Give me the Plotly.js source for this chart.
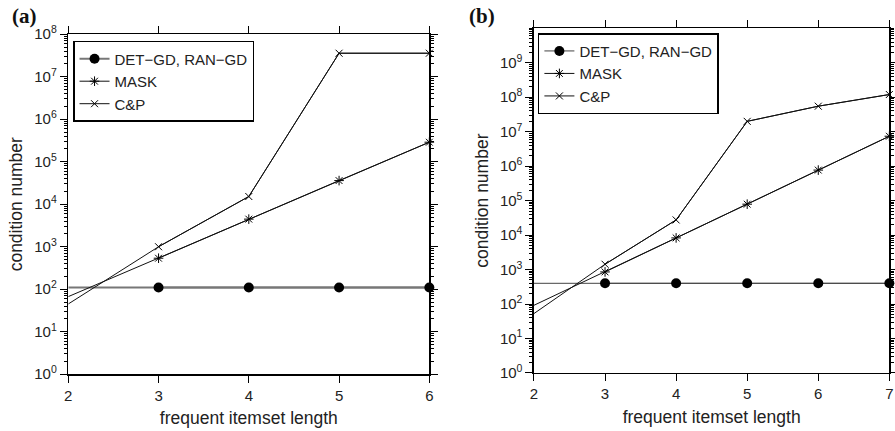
<!DOCTYPE html>
<html>
<head>
<meta charset="utf-8">
<script src="https://cdn.plot.ly/plotly-3.0.1.min.js"></script>
<style>html,body{margin:0;padding:0;background:#fff}#chart{width:895px;height:431px}</style>
</head>
<body>
<div id="chart"></div>
<script>
// Panel (a)
const xA = [2, 3, 4, 5, 6];
const xAmark = [3, 4, 5, 6];
const detA = [110, 110, 110, 110, 110];
const detAmark = [110, 110, 110, 110];
const maskA = [67, 537, 4460, 36000, 288000];
const maskAmark = [537, 4460, 36000, 288000];
const cpA = [45, 1000, 15200, 35700000, 35700000];
const cpAmark = [1000, 15200, 35700000, 35700000];
// Panel (b)
const xB = [2, 3, 4, 5, 6, 7];
const xBmark = [3, 4, 5, 6, 7];
const detB = [400, 400, 400, 400, 400, 400];
const detBmark = [400, 400, 400, 400, 400];
const maskB = [92, 855, 8300, 79000, 770000, 7400000];
const maskBmark = [855, 8300, 79000, 770000, 7400000];
const cpB = [53, 1430, 27600, 20000000, 55000000, 120000000];
const cpBmark = [1430, 27600, 20000000, 55000000, 120000000];
// ticks
const xTicksA = [2, 3, 4, 5, 6];
const xTicksB = [2, 3, 4, 5, 6, 7];
const yTickValsA = [1, 10, 100, 1e3, 1e4, 1e5, 1e6, 1e7, 1e8];
const yTickTextA = ['10<sup>0</sup>','10<sup>1</sup>','10<sup>2</sup>','10<sup>3</sup>','10<sup>4</sup>','10<sup>5</sup>','10<sup>6</sup>','10<sup>7</sup>','10<sup>8</sup>'];
const yTickValsB = [1, 10, 100, 1e3, 1e4, 1e5, 1e6, 1e7, 1e8, 1e9];
const yTickTextB = ['10<sup>0</sup>','10<sup>1</sup>','10<sup>2</sup>','10<sup>3</sup>','10<sup>4</sup>','10<sup>5</sup>','10<sup>6</sup>','10<sup>7</sup>','10<sup>8</sup>','10<sup>9</sup>'];
const names = ['DET\u2212GD, RAN\u2212GD', 'MASK', 'C&P'];

const F = '"Liberation Sans", Arial, sans-serif';
const lineBlack = {color: '#111', width: 1};

function pair(xs, ys, xm, ym, xa, ya, lg, name, line, marker) {
  return [
    {x: xs, y: ys, xaxis: xa, yaxis: ya, mode: 'lines', line: line, showlegend: false, hoverinfo: 'skip', cliponaxis: false},
    {x: xm, y: ym, xaxis: xa, yaxis: ya, mode: 'lines+markers', name: name, legend: lg, line: line, marker: marker, cliponaxis: false}
  ];
}

function panel(xs, xm, det, detm, mask, maskm, cp, cpm, xa, ya, lg, detColor, detWidth) {
  return [].concat(
    pair(xs, det, xm, detm, xa, ya, lg, names[0], {color: detColor, width: detWidth}, {symbol: 'circle', size: 10, color: '#000'}),
    pair(xs, mask, xm, maskm, xa, ya, lg, names[1], lineBlack, {symbol: 'asterisk-open', size: 8, color: '#000', line: {color: '#000', width: 1}}),
    pair(xs, cp, xm, cpm, xa, ya, lg, names[2], lineBlack, {symbol: 'x-thin-open', size: 7, color: '#000', line: {color: '#000', width: 1}})
  );
}

const data = [].concat(
  panel(xA, xAmark, detA, detAmark, maskA, maskAmark, cpA, cpAmark, 'x', 'y', 'legend', '#777', 2),
  panel(xB, xBmark, detB, detBmark, maskB, maskBmark, cpB, cpBmark, 'x2', 'y2', 'legend2', '#444', 1)
);

const tickFont = {family: F, size: 15, color: '#222'};
const titleFont = {family: F, size: 17.5, color: '#222'};
function xaxis(domain, range, ticks, anchor) {
  return {domain: domain, range: range, tickvals: ticks, ticktext: ticks.map(String), anchor: anchor,
    showline: true, linecolor: '#000', linewidth: 1.5, mirror: 'ticks', ticks: 'outside', ticklen: 7,
    tickcolor: '#000', tickwidth: 1, showgrid: false, zeroline: false, tickfont: tickFont,
    title: {text: 'frequent itemset length', font: titleFont, standoff: 9}, automargin: false};
}
function yaxis(domain, range, vals, text, anchor) {
  return {domain: domain, type: 'log', range: range, tickvals: vals, ticktext: text, anchor: anchor,
    showline: true, linecolor: '#000', linewidth: 1.5, mirror: 'ticks', ticks: 'outside', ticklen: 7,
    tickcolor: '#000', tickwidth: 1, showgrid: false, zeroline: false, tickfont: tickFont,
    minor: {dtick: 'D1', ticks: 'outside', ticklen: 3, tickcolor: '#000', tickwidth: 1, showgrid: false},
    title: {text: 'condition number', font: titleFont, standoff: 7}, automargin: false};
}

const legendStyle = {xanchor: 'left', yanchor: 'top', bgcolor: '#fff', bordercolor: '#000', borderwidth: 1.5,
    font: {family: F, size: 15, color: '#222'}, itemwidth: 30, tracegroupgap: 0};

const layout = {
  width: 895, height: 431,
  margin: {l: 0, r: 0, t: 0, b: 0},
  paper_bgcolor: '#fff', plot_bgcolor: '#fff',
  font: {family: F, color: '#222'},
  xaxis: xaxis([0.0763, 0.4797], [2, 6], xTicksA, 'y'),
  yaxis: yaxis([0.1317, 0.9206], [0, 8], yTickValsA, yTickTextA, 'x'),
  xaxis2: xaxis([0.5966, 0.9937], [2, 7], xTicksB, 'y2'),
  yaxis2: yaxis([0.1346, 0.9343], [0, 10], yTickValsB, yTickTextB, 'x2'),
  legend: Object.assign({x: 0.0816, y: 0.905}, legendStyle),
  legend2: Object.assign({x: 0.601, y: 0.923}, legendStyle),
  annotations: [
    {text: '<b>(a)</b>', xref: 'paper', yref: 'paper', x: 0.011, y: 0.995, xanchor: 'left', yanchor: 'top', showarrow: false,
     font: {family: '"Liberation Serif", "Times New Roman", serif', size: 21, color: '#111'}},
    {text: '<b>(b)</b>', xref: 'paper', yref: 'paper', x: 0.522, y: 0.995, xanchor: 'left', yanchor: 'top', showarrow: false,
     font: {family: '"Liberation Serif", "Times New Roman", serif', size: 21, color: '#111'}}
  ],
  showlegend: true
};

Plotly.newPlot('chart', data, layout, {displayModeBar: false, staticPlot: true});
</script>
</body>
</html>
